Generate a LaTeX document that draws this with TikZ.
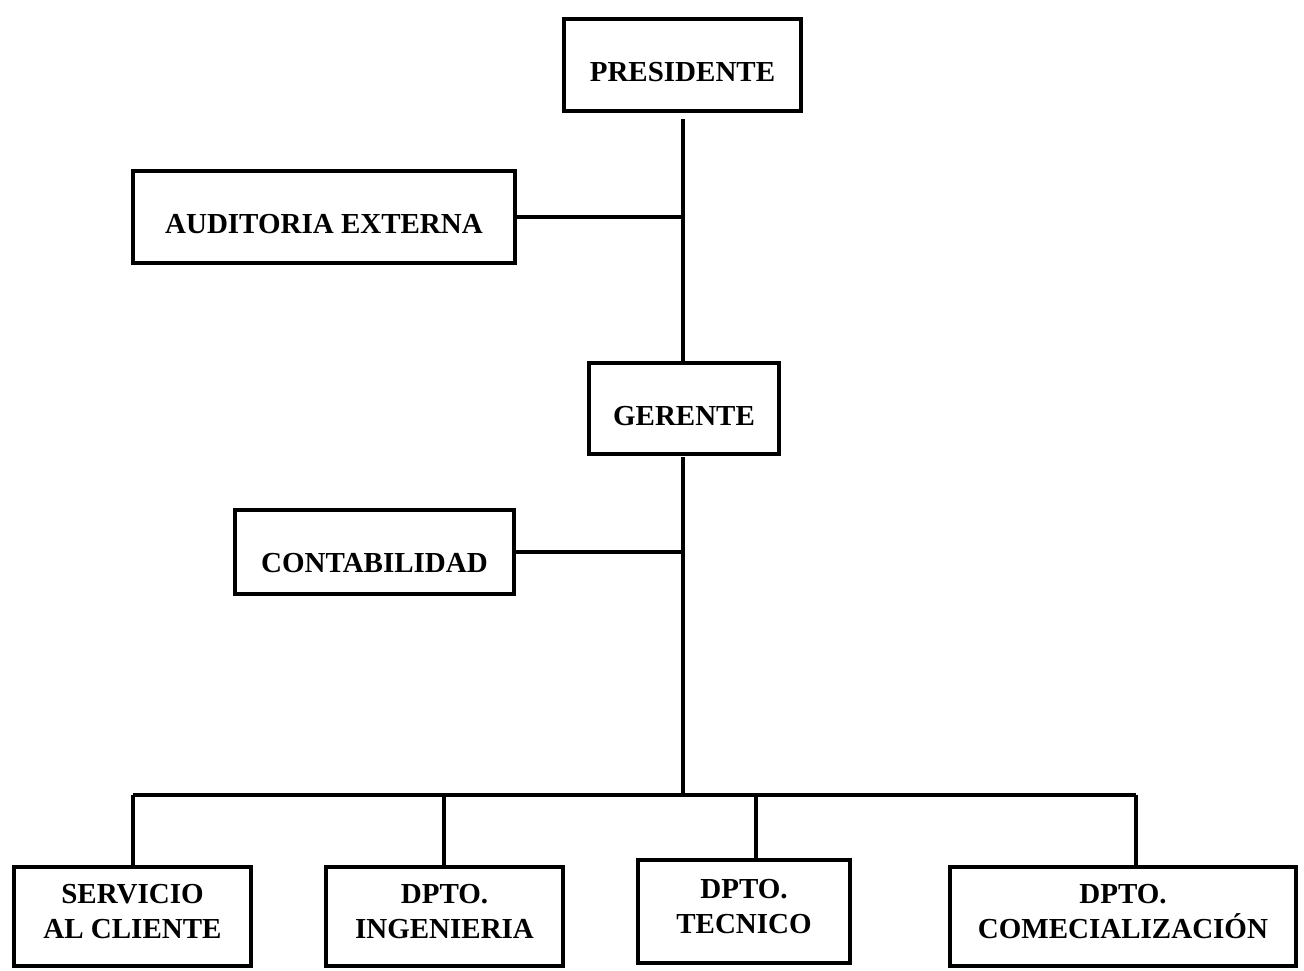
\documentclass[tikz,border=0pt]{standalone}
\usepackage{fontspec}
\setmainfont{Liberation Serif}
\begin{document}
\begin{tikzpicture}[x=1pt,y=-1pt,
  box/.style={draw,line width=4pt,inner sep=0pt,align=center,
    font=\bfseries\fontsize{29}{35}\selectfont},
  one/.style={box,text height=#1,text depth=0pt},
  conn/.style={line width=4pt}]
\useasboundingbox (0,0) rectangle (1304,970);
\node[one=33pt,minimum width=237,minimum height=92] (pres) at (682.5,65) {PRESIDENTE};
\node[one=33pt,minimum width=382,minimum height=92] (aud) at (324,217) {AUDITORIA EXTERNA};
\node[one=34pt,minimum width=190,minimum height=91] (ger) at (684,408.5) {GERENTE};
\node[one=40pt,minimum width=279,minimum height=84] (cont) at (374.5,552) {CONTABILIDAD};
\node[box,minimum width=237,minimum height=99] (serv) at (132.5,916.5) {SERVICIO\\AL CLIENTE\rule[-10pt]{0pt}{1pt}};
\node[box,minimum width=237,minimum height=99] (ing) at (444.5,916.5) {DPTO.\\INGENIERIA\rule[-10pt]{0pt}{1pt}};
\node[box,minimum width=212,minimum height=103] (tec) at (744,911.5) {DPTO.\\TECNICO\rule[-10pt]{0pt}{1pt}};
\node[box,minimum width=346,minimum height=99] (com) at (1123,916.5) {DPTO.\\COMECIALIZACIÓN\rule[-10pt]{0pt}{1pt}};
\coordinate (top) at (683,119);
\coordinate (mid) at (683,361);
\coordinate (gbot) at (683,457);
\coordinate (bus) at (683,795);
\coordinate (bl) at (133,795);
\coordinate (bi) at (444,795);
\coordinate (bt) at (756,795);
\coordinate (br) at (1136,795);
\draw[conn] (top) -- (mid);
\draw[conn] (aud.east) -- (aud.east -| top);
\draw[conn] (gbot) -- (bus);
\draw[conn] (cont.east) -- (cont.east -| top);
\draw[conn] (bl) -- (br);
\draw[conn] (bl) -- (bl |- serv.north);
\draw[conn] (bi) -- (bi |- ing.north);
\draw[conn] (bt) -- (bt |- tec.north);
\draw[conn] (br) -- (br |- com.north);
\end{tikzpicture}
\end{document}
